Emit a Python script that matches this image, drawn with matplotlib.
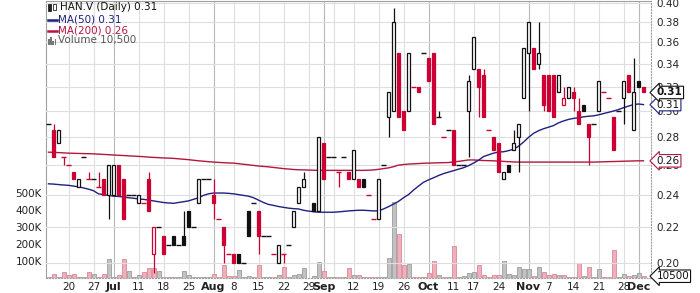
import numpy as np
import pandas as pd
import matplotlib
matplotlib.use("Agg")
import matplotlib.pyplot as plt
from matplotlib.patches import Rectangle
from matplotlib.ticker import FixedLocator, NullLocator, FormatStrFormatter

# trading days (TSX-V holidays removed)
holidays = ["2016-07-01", "2016-08-01", "2016-09-05", "2016-10-10"]
dates = pd.bdate_range("2016-06-14", "2016-12-02")
dates = dates[~dates.isin(pd.to_datetime(holidays))]

nan = np.nan
opens = [0.29, 0.285, 0.275, 0.265, 0.26, 0.255, 0.245, 0.265, 0.25, 0.25,
         0.245, 0.25, 0.24, 0.24, 0.26, 0.25, 0.24, 0.24, 0.235, 0.235,
         0.25, 0.205, 0.22, 0.215, 0.21, 0.215, 0.21, 0.215, 0.23, 0.22,
         0.235, 0.25, 0.25, 0.24, 0.225, 0.22, 0.205, 0.205, 0.205, 0.20,
         0.23, 0.235, 0.23, 0.215, 0.215, 0.205, 0.20, 0.205, 0.21, 0.22,
         0.235, 0.245, nan, 0.235, 0.23, 0.275, 0.265, 0.265, 0.255, 0.265,
         0.255, 0.25, 0.25, 0.25, 0.24, 0.225, 0.225, 0.26, 0.295, 0.30,
         0.35, 0.30, 0.30, 0.32, 0.32, 0.35, 0.345, 0.35, 0.295, 0.28,
         0.285, 0.285, 0.26, 0.26, 0.30, 0.335, 0.335, 0.33, 0.285, 0.28,
         0.275, 0.25, 0.26, 0.27, 0.28, 0.31, 0.35, 0.355, 0.34, 0.33,
         0.33, 0.33, 0.315, 0.305, 0.31, 0.315, 0.30, 0.305, 0.29, 0.29,
         0.30, 0.315, 0.31, 0.295, 0.30, 0.31, 0.33, 0.285, 0.325, 0.32]
highs = [0.29, 0.29, 0.285, 0.265, 0.26, 0.255, 0.25, 0.265, 0.255, 0.25,
         0.255, 0.25, 0.26, 0.26, 0.26, 0.25, 0.24, 0.24, 0.24, 0.235,
         0.255, 0.22, 0.22, 0.215, 0.21, 0.215, 0.21, 0.23, 0.23, 0.22,
         0.25, 0.25, 0.25, 0.25, 0.225, 0.22, 0.205, 0.205, 0.205, 0.20,
         0.23, 0.235, 0.23, 0.215, 0.215, 0.205, 0.21, 0.205, 0.21, 0.23,
         0.245, 0.255, nan, 0.235, 0.28, 0.275, 0.265, 0.265, 0.255, 0.265,
         0.255, 0.27, 0.25, 0.25, 0.24, 0.225, 0.25, 0.26, 0.315, 0.395,
         0.35, 0.30, 0.35, 0.32, 0.32, 0.35, 0.345, 0.35, 0.30, 0.28,
         0.285, 0.285, 0.26, 0.26, 0.33, 0.365, 0.335, 0.335, 0.285, 0.28,
         0.275, 0.255, 0.26, 0.285, 0.29, 0.355, 0.38, 0.355, 0.38, 0.33,
         0.33, 0.33, 0.33, 0.32, 0.32, 0.32, 0.31, 0.305, 0.29, 0.29,
         0.325, 0.315, 0.31, 0.295, 0.30, 0.325, 0.33, 0.345, 0.325, 0.32]
lows = [0.29, 0.265, 0.275, 0.26, 0.26, 0.25, 0.245, 0.265, 0.25, 0.25,
        0.245, 0.24, 0.225, 0.24, 0.24, 0.225, 0.24, 0.24, 0.235, 0.235,
        0.23, 0.195, 0.22, 0.205, 0.21, 0.21, 0.21, 0.21, 0.22, 0.22,
        0.235, 0.25, 0.25, 0.225, 0.225, 0.20, 0.205, 0.20, 0.20, 0.20,
        0.215, 0.235, 0.205, 0.215, 0.215, 0.205, 0.20, 0.20, 0.21, 0.22,
        0.235, 0.245, nan, 0.23, 0.23, 0.25, 0.265, 0.265, 0.245, 0.265,
        0.25, 0.25, 0.245, 0.245, 0.24, 0.225, 0.225, 0.26, 0.28, 0.30,
        0.295, 0.285, 0.30, 0.32, 0.315, 0.35, 0.325, 0.29, 0.295, 0.28,
        0.285, 0.26, 0.26, 0.26, 0.265, 0.335, 0.295, 0.295, 0.285, 0.27,
        0.255, 0.25, 0.255, 0.27, 0.255, 0.31, 0.30, 0.335, 0.335, 0.30,
        0.30, 0.295, 0.315, 0.305, 0.31, 0.30, 0.29, 0.30, 0.26, 0.29,
        0.30, 0.315, 0.31, 0.27, 0.30, 0.29, 0.315, 0.285, 0.32, 0.315]
closes = [0.29, 0.265, 0.285, 0.265, 0.26, 0.25, 0.25, 0.265, 0.25, 0.25,
          0.245, 0.24, 0.26, 0.26, 0.24, 0.225, 0.24, 0.24, 0.24, 0.235,
          0.23, 0.22, 0.22, 0.205, 0.21, 0.21, 0.21, 0.21, 0.22, 0.22,
          0.25, 0.25, 0.25, 0.235, 0.225, 0.21, 0.205, 0.20, 0.20, 0.20,
          0.215, 0.235, 0.215, 0.215, 0.215, 0.205, 0.21, 0.205, 0.21, 0.23,
          0.245, 0.25, nan, 0.23, 0.28, 0.25, 0.265, 0.265, 0.255, 0.265,
          0.25, 0.27, 0.245, 0.245, 0.24, 0.225, 0.25, 0.26, 0.315, 0.38,
          0.295, 0.285, 0.35, 0.32, 0.315, 0.35, 0.325, 0.29, 0.295, 0.28,
          0.285, 0.26, 0.26, 0.26, 0.325, 0.365, 0.32, 0.295, 0.285, 0.27,
          0.255, 0.255, 0.255, 0.275, 0.29, 0.355, 0.38, 0.335, 0.35, 0.305,
          0.30, 0.295, 0.33, 0.31, 0.32, 0.31, 0.29, 0.30, 0.28, 0.29,
          0.325, 0.315, 0.31, 0.27, 0.30, 0.325, 0.315, 0.315, 0.32, 0.315]

# volume in thousands
volume = [6, 24, 8, 33, 16, 22, 6, 5, 33, 24,
          6, 24, 112, 6, 20, 110, 40, 5, 18, 33,
          57, 60, 40, 5, 3, 5, 6, 43, 15, 3,
          5, 5, 3, 24, 4, 76, 10, 12, 45, 5,
          10, 4, 76, 6, 4, 5, 18, 65, 5, 18,
          25, 60, 0, 12, 92, 42, 5, 3, 6, 4,
          59, 20, 15, 5, 5, 5, 5, 8, 115, 448,
          260, 76, 82, 5, 4, 5, 32, 100, 15, 5,
          4, 190, 5, 12, 28, 35, 76, 18, 8, 15,
          20, 100, 22, 15, 66, 55, 55, 12, 63, 33,
          15, 25, 15, 15, 5, 3, 86, 12, 66, 3,
          53, 3, 3, 165, 3, 24, 12, 20, 28, 10.5]

ma50 = [0.247, 0.2468, 0.2465, 0.2462, 0.246, 0.2455, 0.245, 0.2443, 0.2435, 0.2425,
        0.2405, 0.240, 0.2395, 0.239, 0.2388, 0.2385, 0.238, 0.2377, 0.2372, 0.237,
        0.2365, 0.236, 0.2355, 0.235, 0.2347, 0.2345, 0.235, 0.2355, 0.236, 0.237,
        0.238, 0.2395, 0.2405, 0.241, 0.241, 0.241, 0.2408, 0.2405, 0.240, 0.2395,
        0.239, 0.238, 0.2365, 0.235, 0.2338, 0.2332, 0.2325, 0.232, 0.2315, 0.2312,
        0.231, 0.2302, 0.2297, 0.2293, 0.229, 0.229, 0.229, 0.229, 0.2292, 0.2295,
        0.2298, 0.230, 0.2302, 0.2302, 0.230, 0.2298, 0.2298, 0.231, 0.2324, 0.234,
        0.2357, 0.238, 0.240, 0.2429, 0.2455, 0.248, 0.2496, 0.251, 0.2525, 0.2538,
        0.2548, 0.2558, 0.2568, 0.2578, 0.2592, 0.261, 0.263, 0.2656, 0.2668, 0.268,
        0.2688, 0.269, 0.2698, 0.2708, 0.273, 0.276, 0.2795, 0.2825, 0.2845, 0.286,
        0.2872, 0.2884, 0.2905, 0.292, 0.2932, 0.294, 0.2945, 0.2952, 0.2957, 0.296,
        0.2968, 0.2978, 0.2988, 0.2998, 0.301, 0.3025, 0.3038, 0.305, 0.3055, 0.305]
ma200 = [0.2687, 0.2686, 0.2684, 0.2682, 0.268, 0.2679, 0.2678, 0.2677, 0.2676, 0.2675,
         0.2673, 0.2671, 0.2669, 0.2667, 0.2665, 0.2663, 0.2661, 0.2659, 0.2657, 0.2655,
         0.2652, 0.265, 0.2648, 0.2646, 0.2645, 0.2643, 0.264, 0.2637, 0.2634, 0.263,
         0.2626, 0.2623, 0.262, 0.2617, 0.2615, 0.2613, 0.2611, 0.261, 0.2606, 0.2602,
         0.2598, 0.2594, 0.259, 0.2587, 0.2584, 0.258, 0.2576, 0.2572, 0.2569, 0.2566,
         0.2564, 0.2563, 0.2562, 0.2561, 0.256, 0.256, 0.256, 0.256, 0.256, 0.256,
         0.256, 0.256, 0.256, 0.256, 0.2561, 0.2563, 0.2567, 0.2572, 0.2577, 0.2585,
         0.2596, 0.260, 0.2603, 0.2605, 0.2607, 0.2609, 0.261, 0.2611, 0.2612, 0.2613,
         0.2614, 0.2618, 0.2622, 0.2627, 0.2632, 0.2632, 0.263, 0.2628, 0.2627, 0.2626,
         0.2624, 0.2622, 0.262, 0.2618, 0.2617, 0.2617, 0.2617, 0.2617, 0.2617, 0.2617,
         0.2617, 0.2617, 0.2617, 0.2617, 0.2617, 0.2617, 0.2617, 0.2617, 0.2617, 0.2617,
         0.2618, 0.2619, 0.262, 0.2621, 0.2622, 0.2623, 0.2624, 0.2625, 0.2626, 0.2626]

tick_dates = ["2016-06-20", "2016-06-27", "2016-07-04", "2016-07-11", "2016-07-18",
              "2016-07-25", "2016-08-02", "2016-08-08", "2016-08-15", "2016-08-22",
              "2016-08-29", "2016-09-01", "2016-09-12", "2016-09-19", "2016-09-26",
              "2016-10-03", "2016-10-11", "2016-10-17", "2016-10-24", "2016-11-01",
              "2016-11-07", "2016-11-14", "2016-11-21", "2016-11-28", "2016-12-01"]
tick_labels = ["20", "27", "Jul", "11", "18", "25", "Aug", "8", "15", "22", "29", "Sep",
               "12", "19", "26", "Oct", "11", "17", "24", "Nov", "7", "14", "21", "28", "Dec"]
extra_grid_dates = ["2016-09-06"]

df = pd.DataFrame({"open": opens, "high": highs, "low": lows, "close": closes,
                   "volume": volume}, index=dates)
x = np.arange(len(df))
prev = df["close"].shift(1)
down = (df["close"] < prev).values

RED = "#cc0033"
BLACK = "#111111"
col = np.where(down, RED, BLACK)

fig = plt.figure(figsize=(7, 2.93), dpi=100)
ax_vol = fig.add_axes([46 / 700, 15 / 293, 605 / 700, 277 / 293])
ax = ax_vol.twinx()

# vertical grid
pos = [df.index.get_loc(pd.Timestamp(d)) for d in tick_dates]
for p, lab in zip(pos, tick_labels):
    month = not lab.isdigit()
    ax_vol.axvline(p, color="#b8b8b8" if month else "#dedede", lw=0.8, zorder=0)
for d in extra_grid_dates:
    ax_vol.axvline(df.index.get_loc(pd.Timestamp(d)), color="#dedede", lw=0.8, zorder=0)

# volume
vcol = np.where(down, "#f0b0bb", "#c2c2c2")
vedge = np.where(down, "#d78a98", "#9c9c9c")
ax_vol.bar(x, df["volume"], width=0.8, color=vcol, edgecolor=vedge, lw=0.6, zorder=1)
ax_vol.set_ylim(0, 1630)
ax_vol.set_xlim(-0.5, 120.5)
ax_vol.set_yticks([100, 200, 300, 400, 500])
ax_vol.set_yticklabels(["100K", "200K", "300K", "400K", "500K"])
ax_vol.tick_params(axis="y", length=0, pad=3, labelsize=7.5, colors="#222")
ax_vol.set_xticks(pos)
ax_vol.set_xticklabels(tick_labels)
ax_vol.tick_params(axis="x", length=0, pad=3, labelsize=7.5, colors="#222")
for t in ax_vol.get_xticklabels():
    if not t.get_text().isdigit():
        t.set_fontweight("bold")
        t.set_fontsize(8)

# price panel
ax.set_yscale("log")
ax.set_ylim(0.1922, 0.4019)
ticks = [0.20, 0.22, 0.24, 0.26, 0.28, 0.30, 0.32, 0.34, 0.36, 0.38, 0.40]
ax.yaxis.set_major_locator(FixedLocator(ticks))
ax.yaxis.set_minor_locator(NullLocator())
ax.yaxis.set_major_formatter(FormatStrFormatter("%.2f"))
ax.tick_params(axis="y", length=0, pad=4, labelsize=7.5, colors="#222")
for t in ticks:
    ax.axhline(t, color="#dedede", lw=0.8, zorder=0)

ax.plot(x, ma200, color="#b3163f", lw=1.0, zorder=2)
ax.plot(x, ma50, color="#1f1f80", lw=1.0, zorder=2)

w = 0.8
for i in x:
    o, h, l, c = df["open"].iat[i], df["high"].iat[i], df["low"].iat[i], df["close"].iat[i]
    if np.isnan(c):
        continue
    cc = col[i]
    if h > max(o, c):
        ax.vlines(i, max(o, c), h, color=cc, lw=0.9, zorder=3)
    if l < min(o, c):
        ax.vlines(i, l, min(o, c), color=cc, lw=0.9, zorder=3)
    if c == o:
        ax.hlines(c, i - w / 2 - 0.05, i + w / 2 + 0.05, color=cc, lw=1.0, zorder=4)
    else:
        fc = "white" if c > o else cc
        ax.bar(i, abs(c - o), bottom=min(o, c), width=w - 0.08, facecolor=fc,
               edgecolor=cc, lw=0.9, zorder=4)

for a in (ax, ax_vol):
    for s in a.spines.values():
        s.set_visible(False)
ax_vol.spines["left"].set_visible(True)
ax_vol.spines["left"].set_color("#a0a0a0")
ax_vol.spines["top"].set_visible(True)
ax_vol.spines["top"].set_color("#a0a0a0")
ax_vol.spines["right"].set_visible(True)
ax_vol.spines["right"].set_color("#a0a0a0")
ax_vol.spines["right"].set_linestyle(":")
ax_vol.spines["bottom"].set_visible(True)
ax_vol.spines["bottom"].set_color("#a0a0a0")
ax_vol.spines["bottom"].set_linestyle(":")

# value tags on the right
def tag(axis, val, text, ec, bold=False):
    axis.annotate(text, xy=(1, val), xycoords=("axes fraction", "data"),
                  xytext=(4, 0), textcoords="offset points", va="center", ha="left",
                  fontsize=7.5, fontweight="bold" if bold else "normal", color="#111",
                  bbox=dict(boxstyle="larrow,pad=0.12", fc="white", ec=ec, lw=0.8),
                  annotation_clip=False, zorder=10)

tag(ax, 0.2626, "0.26", "#b3163f")
tag(ax, ma50[-1], "0.31", "#1f1f80")
tag(ax, closes[-1], "0.31", "#111", bold=True)
tag(ax_vol, volume[-1], "10500", "#111")

# legend block
def fx(px):
    return px / 700

def fy(py):
    return 1 - py / 293

fig.add_artist(Rectangle((fx(48), fy(11)), 3 / 700, 7 / 293, transform=fig.transFigure,
                         facecolor="#222", edgecolor="#222", lw=0.6))
fig.add_artist(Rectangle((fx(53), fy(10)), 3 / 700, 6 / 293, transform=fig.transFigure,
                         facecolor="white", edgecolor="#222", lw=0.6))
fig.text(fx(60), fy(7.5), "HAN.V (Daily) 0.31", fontsize=7.5, va="center", color="#111")
fig.add_artist(plt.Line2D([fx(48), fx(57)], [fy(19.5), fy(19.5)], transform=fig.transFigure,
                          color="#1f1f80", lw=1.8))
fig.text(fx(58), fy(19.5), "MA(50) 0.31", fontsize=7.5, va="center", color="#1f1f80")
fig.add_artist(plt.Line2D([fx(48), fx(57)], [fy(30.5), fy(30.5)], transform=fig.transFigure,
                          color="#b3163f", lw=1.8))
fig.text(fx(58), fy(30.5), "MA(200) 0.26", fontsize=7.5, va="center", color="#b3163f")
for k, hh in enumerate([5, 7, 4, 6]):
    fig.add_artist(Rectangle((fx(48 + 2.2 * k), fy(44.5)), 1.6 / 700, hh / 293,
                             transform=fig.transFigure, facecolor="#777", lw=0))
fig.text(fx(58), fy(40.5), "Volume 10,500", fontsize=7.5, va="center", color="#555")

fig.savefig("out.png", dpi=100)
